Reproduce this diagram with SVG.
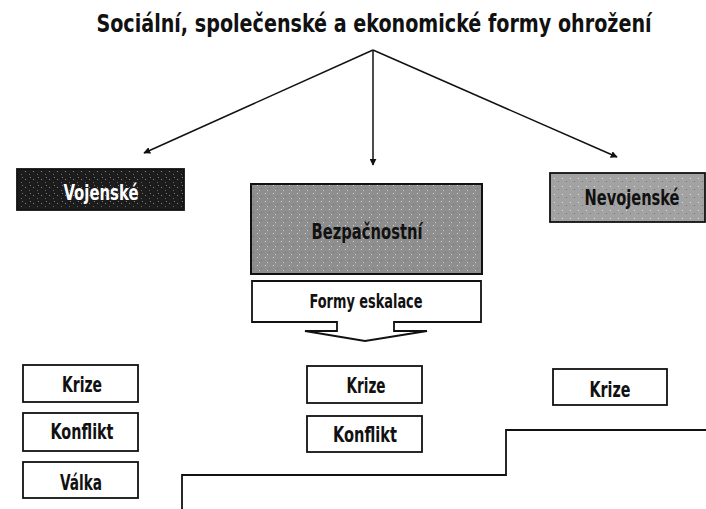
<svg xmlns="http://www.w3.org/2000/svg" width="706" height="509" viewBox="0 0 706 509">
<style>
  .t { font-family: "Liberation Sans Narrow", "DejaVu Sans Condensed", "Roboto Condensed", "Liberation Sans", Arial, sans-serif; text-anchor: middle; fill: #111; font-weight: bold; }
  .box { fill: #fff; stroke: #111; stroke-width: 1.8; }
  .line { fill: none; stroke: #111; stroke-width: 1.8; }
  .conn { fill: none; stroke: #111; stroke-width: 1.5; }
</style>
<defs>
  <marker id="ah" viewBox="0 0 10 10" refX="9" refY="5" markerWidth="7" markerHeight="7" markerUnits="userSpaceOnUse" orient="auto">
    <path d="M0,0 L10,5 L0,10 Z" fill="#111"/>
  </marker>
  <pattern id="speck" width="8" height="8" patternUnits="userSpaceOnUse">
    <rect width="8" height="8" fill="#8e8e8e"/>
    <rect x="1" y="1" width="1" height="1" fill="#d8d8d8"/>
    <rect x="5" y="4" width="1" height="1" fill="#6a6a6a"/>
    <rect x="3" y="6" width="1" height="1" fill="#c8c8c8"/>
  </pattern>
  <pattern id="speck2" width="8" height="8" patternUnits="userSpaceOnUse">
    <rect width="8" height="8" fill="#a2a2a2"/>
    <rect x="2" y="2" width="1" height="1" fill="#e0e0e0"/>
    <rect x="6" y="5" width="1" height="1" fill="#7a7a7a"/>
  </pattern>
  <pattern id="speck3" width="8" height="8" patternUnits="userSpaceOnUse">
    <rect width="8" height="8" fill="#1c1c1c"/>
    <rect x="1" y="3" width="1" height="1" fill="#888"/>
    <rect x="5" y="6" width="1" height="1" fill="#666"/>
    <rect x="6" y="1" width="1" height="1" fill="#777"/>
  </pattern>
</defs>

<text class="t" transform="translate(374,32) scale(0.8,1)" x="0" y="0" font-size="25" textLength="694" lengthAdjust="spacingAndGlyphs">Sociální, společenské a ekonomické formy ohrožení</text>

<g id="connectors">
  <line class="conn" x1="373" y1="50" x2="144" y2="153" marker-end="url(#ah)"/>
  <line class="conn" x1="373" y1="50" x2="373" y2="165" marker-end="url(#ah)"/>
  <line class="conn" x1="373" y1="50" x2="617" y2="157" marker-end="url(#ah)"/>
  <polyline class="line" points="182,509 182,475 506,475 506,430 706,430"/>
</g>

<g id="vojenske">
  <rect x="17" y="169" width="167" height="41" fill="url(#speck3)" stroke="#111" stroke-width="1.8"/>
  <text class="t" x="101" y="200" font-size="21" style="fill:#fff" textLength="75" lengthAdjust="spacingAndGlyphs">Vojenské</text>
</g>

<g id="bezpecnostni">
  <rect x="251" y="184" width="231" height="90" fill="url(#speck)" stroke="#111" stroke-width="2"/>
  <text class="t" x="367" y="239" font-size="22" textLength="111" lengthAdjust="spacingAndGlyphs">Bezpačnostní</text>
</g>

<g id="nevojenske">
  <rect x="550" y="173" width="155" height="49" fill="url(#speck2)" stroke="#111" stroke-width="1.8"/>
  <text class="t" x="632" y="205" font-size="21" textLength="95" lengthAdjust="spacingAndGlyphs">Nevojenské</text>
</g>

<g id="formy-eskalace">
  <path class="box" d="M252,281 H481 V322 H394 V331 H427 L365,341 L305,331 H337 V322 H252 Z"/>
  <text class="t" x="366" y="308" font-size="19" textLength="113" lengthAdjust="spacingAndGlyphs">Formy eskalace</text>
</g>

<g id="krize-1">
  <rect class="box" x="23" y="365" width="115" height="37"/>
  <text class="t" x="82" y="392" font-size="22" textLength="40" lengthAdjust="spacingAndGlyphs">Krize</text>
</g>
<g id="konflikt-1">
  <rect class="box" x="23" y="413" width="115" height="38"/>
  <text class="t" x="82" y="439" font-size="22" textLength="63" lengthAdjust="spacingAndGlyphs">Konflikt</text>
</g>
<g id="valka-1">
  <rect class="box" x="23" y="462" width="115" height="36"/>
  <text class="t" x="81" y="490" font-size="22" textLength="42" lengthAdjust="spacingAndGlyphs">Válka</text>
</g>

<g id="krize-2">
  <rect class="box" x="307" y="366" width="115" height="37"/>
  <text class="t" x="366" y="393" font-size="22" textLength="39" lengthAdjust="spacingAndGlyphs">Krize</text>
</g>
<g id="konflikt-2">
  <rect class="box" x="307" y="416" width="115" height="36"/>
  <text class="t" x="365" y="442" font-size="22" textLength="64" lengthAdjust="spacingAndGlyphs">Konflikt</text>
</g>

<g id="krize-3">
  <rect class="box" x="553" y="369" width="114" height="36"/>
  <text class="t" x="610" y="397" font-size="22" textLength="41" lengthAdjust="spacingAndGlyphs">Krize</text>
</g>
</svg>
